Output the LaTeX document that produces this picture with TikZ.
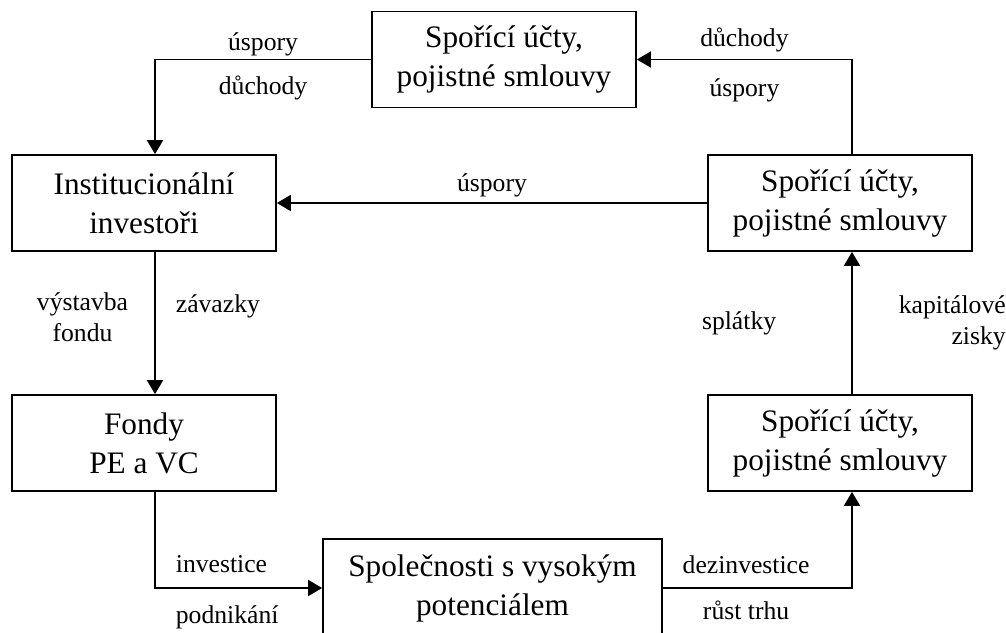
\documentclass[tikz,border=0pt]{standalone}
\usepackage{fontspec}
\setmainfont{Liberation Serif}
\usetikzlibrary{arrows.meta}

\begin{document}
\begin{tikzpicture}[x = 0.02cm, y = -0.02cm,
	box/.style = {draw, line width = 1pt, minimum width = 5.28cm, minimum height = 1.92cm, align = center, font = {\fontsize{17.8pt}{22.2pt}\selectfont}},
	flow/.style = {line width = 1pt, -{Triangle[length = 2.8mm, width = 3.2mm]}},
	lbl/.style = {align = center, inner sep = 0pt, font = {\fontsize{14.6pt}{18pt}\selectfont}}]
\useasboundingbox (0, 0) rectangle (1006, 632);

\node[box] (TOP) at (504, 59.5) {Spořící účty,\\pojistné smlouvy};
\node[box] (INST) at (144, 203) {Institucionální\\investoři};
\node[box] (RMID) at (840, 203) {Spořící účty,\\pojistné smlouvy};
\node[box] (FOND) at (144, 443) {Fondy\\PE a VC};
\node[box] (RLOW) at (840, 443) {Spořící účty,\\pojistné smlouvy};
\node[box, minimum width = 6.78cm, minimum height = 1.96cm] (FIRM) at (492.5, 588) {Společnosti s vysokým\\potenciálem};

\draw[flow] (TOP.west) -| node[lbl, pos = 0.25, above = 0.06cm] {úspory} node[lbl, pos = 0.25, below = 0.32cm] {důchody} ([xshift = 0.22cm]INST.north);
\draw[flow] ([xshift = 0.24cm]RMID.north) |- node[lbl, pos = 0.75, above = 0.14cm] {důchody} node[lbl, pos = 0.75, below = 0.36cm] {úspory} (TOP.east);
\draw[flow] (RMID) -- node[lbl, above = 0.1cm] {úspory} (INST);
\draw[flow] ([xshift = 0.22cm]INST.south) -- node[lbl, pos = 0.46, left = 0.52cm] {výstavba\\fondu} node[lbl, pos = 0.38, right = 0.4cm] {závazky} ([xshift = 0.22cm]FOND.north);
\draw[flow] ([xshift = 0.22cm]FOND.south) |- node[lbl, pos = 0.5, anchor = south west, xshift = 0.4cm, yshift = 0.28cm] {investice} node[lbl, pos = 0.5, anchor = north west, xshift = 0.4cm, yshift = -0.34cm] {podnikání} (FIRM.west);
\draw[flow] (FIRM.east) -| node[lbl, pos = 0.22, above = 0.26cm] {dezinvestice} node[lbl, pos = 0.22, below = 0.24cm] {růst trhu} ([xshift = 0.24cm]RLOW.south);
\draw[flow] ([xshift = 0.24cm]RLOW.north) -- node[lbl, left = 1.5cm] {splátky} node[lbl, right = 0.92cm, align = right] {kapitálové\\zisky} ([xshift = 0.24cm]RMID.south);
\end{tikzpicture}
\end{document}
